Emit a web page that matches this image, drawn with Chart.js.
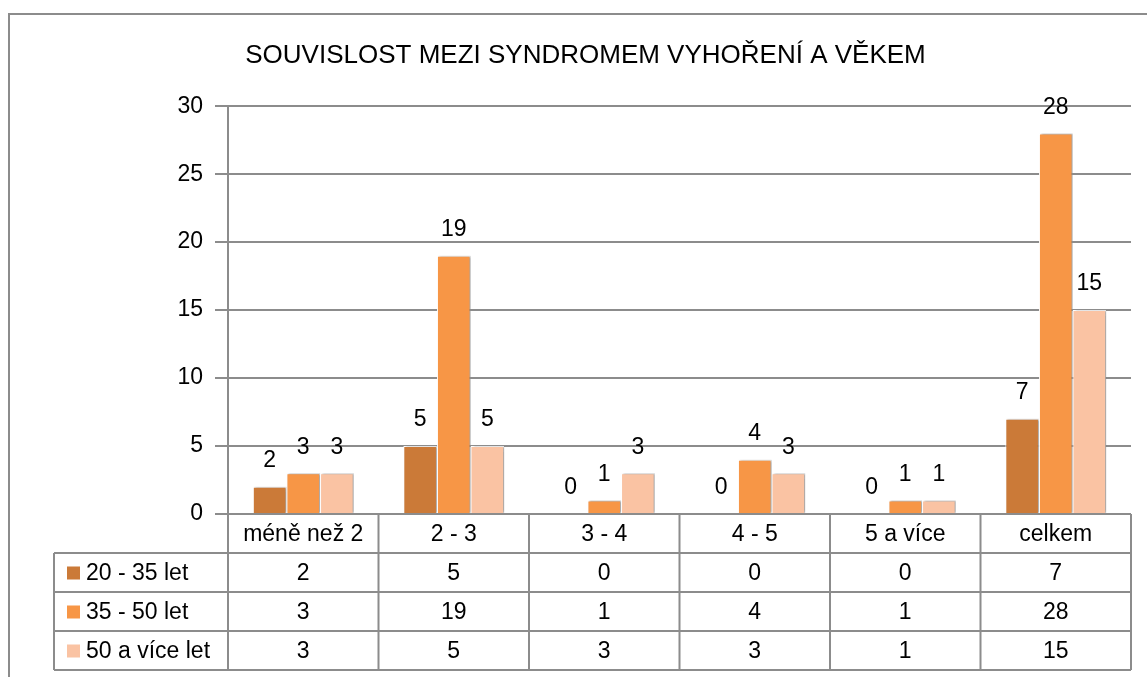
<!DOCTYPE html>
<html>
<head>
<meta charset="utf-8">
<script src="https://cdn.jsdelivr.net/npm/chart.js@4/dist/chart.umd.min.js"></script>
<style>
  html, body { margin: 0; padding: 0; background: #fff; }
  #wrap { width: 1147px; height: 677px; }
</style>
</head>
<body>
<div id="wrap"><canvas id="chart" width="1147" height="677"></canvas></div>
<script>
// Chart data
const categories = ['méně než 2', '2 - 3', '3 - 4', '4 - 5', '5 a více', 'celkem'];
const seriesNames = ['20 - 35 let', '35 - 50 let', '50 a více let'];
const young = [2, 5, 0, 0, 0, 7];
const middle = [3, 19, 1, 4, 1, 28];
const older = [3, 5, 3, 3, 1, 15];
const yTicks = [0, 5, 10, 15, 20, 25, 30];

const colors = ['#CB7A38', '#F79646', '#FAC3A3'];
const FONT = '"Liberation Sans", Arial, sans-serif';
const TXT = 23;
const lineGray = '#8c8c8c';

// outer frame of the chart object
const framePlugin = {
    id: 'frame',
    beforeDraw(chart) {
        const ctx = chart.ctx;
        ctx.save();
        ctx.fillStyle = '#fff';
        ctx.fillRect(0, 0, chart.width, chart.height);
        ctx.strokeStyle = lineGray;
        ctx.lineWidth = 2;
        ctx.beginPath();
        ctx.moveTo(9, chart.height + 2);
        ctx.lineTo(9, 14);
        ctx.lineTo(chart.width + 2, 14);
        ctx.stroke();
        ctx.restore();
    }
};

// slight shadow behind bars
const shadowPlugin = {
    id: 'barShadow',
    beforeDatasetsDraw(chart) {
        const ctx = chart.ctx;
        ctx.save();
        ctx.shadowColor = 'rgba(0,0,0,0.35)';
        ctx.shadowOffsetX = 2;
        ctx.shadowOffsetY = 0;
        ctx.shadowBlur = 2;
    },
    afterDatasetsDraw(chart) {
        chart.ctx.restore();
    }
};

// value labels over each bar
const valueLabels = {
    id: 'valueLabels',
    afterDatasetsDraw(chart) {
        const ctx = chart.ctx;
        ctx.save();
        ctx.font = TXT + 'px ' + FONT;
        ctx.fillStyle = '#000';
        ctx.textAlign = 'center';
        ctx.textBaseline = 'middle';
        chart.data.datasets.forEach((ds, i) => {
            chart.getDatasetMeta(i).data.forEach((bar, j) => {
                ctx.fillText(String(ds.data[j]), bar.x, bar.y - 26);
            });
        });
        ctx.restore();
    }
};

// data table under the plot (category names + values + legend keys)
const dataTable = {
    id: 'dataTable',
    afterDraw(chart) {
        const ctx = chart.ctx;
        const area = chart.chartArea;
        const n = categories.length;
        const colW = (area.right - area.left) / n;
        const rowH = 39;
        const top = area.bottom;
        const tableLeft = 54;
        const rows = chart.data.datasets.length;
        const bottom = top + rowH * (rows + 1);

        ctx.save();
        ctx.strokeStyle = lineGray;
        ctx.lineWidth = 2;
        ctx.beginPath();
        // vertical lines
        for (let k = 0; k <= n; k++) {
            const x = area.left + colW * k;
            ctx.moveTo(x, top);
            ctx.lineTo(x, bottom);
        }
        ctx.moveTo(tableLeft, top + rowH);
        ctx.lineTo(tableLeft, bottom);
        // horizontal lines
        for (let r = 1; r <= rows + 1; r++) {
            const y = top + rowH * r;
            ctx.moveTo(tableLeft, y);
            ctx.lineTo(area.right, y);
        }
        ctx.stroke();

        ctx.font = TXT + 'px ' + FONT;
        ctx.fillStyle = '#000';
        ctx.textBaseline = 'middle';
        ctx.textAlign = 'center';
        const xs = chart.scales.x;
        categories.forEach((c, k) => {
            ctx.fillText(c, xs.getPixelForValue(k), top + rowH / 2 + 1);
        });
        chart.data.datasets.forEach((ds, r) => {
            const yMid = top + rowH * (r + 1) + rowH / 2 + 1;
            ds.data.forEach((v, k) => {
                ctx.textAlign = 'center';
                ctx.fillText(String(v), xs.getPixelForValue(k), yMid);
            });
            ctx.fillStyle = ds.backgroundColor;
            ctx.fillRect(tableLeft + 13, yMid - 7, 13, 13);
            ctx.fillStyle = '#000';
            ctx.textAlign = 'left';
            ctx.fillText(ds.label, tableLeft + 32, yMid);
        });
        ctx.restore();
    }
};

const values = [young, middle, older];

new Chart(document.getElementById('chart'), {
    type: 'bar',
    data: {
        labels: categories,
        datasets: seriesNames.map((name, i) => ({
            label: name,
            data: values[i],
            backgroundColor: colors[i],
            borderColor: '#ffffff',
            borderWidth: 1,
            categoryPercentage: 0.67,
            barPercentage: 1.0
        }))
    },
    options: {
        responsive: false,
        animation: false,
        layout: { padding: { top: 0, right: 16, bottom: 7, left: 40 } },
        plugins: {
            legend: { display: false },
            tooltip: { enabled: false },
            title: {
                display: true,
                text: 'SOUVISLOST MEZI SYNDROMEM VYHOŘENÍ A VĚKEM',
                color: '#000',
                font: { family: FONT, size: 26, weight: 'normal' },
                padding: { top: 40, bottom: 35 }
            }
        },
        scales: {
            x: {
                ticks: { display: false },
                grid: { display: false },
                border: { display: false },
                afterFit(scale) { scale.height = 156; }
            },
            y: {
                min: 0,
                max: 30,
                afterBuildTicks(scale) { scale.ticks = yTicks.map(v => ({ value: v })); },
                ticks: {
                    color: '#000',
                    padding: 12,
                    font: { family: FONT, size: TXT }
                },
                grid: { color: lineGray, lineWidth: 2, tickLength: 13 },
                border: { display: true, color: lineGray, width: 2 },
                afterFit(scale) { scale.width = 188; }
            }
        }
    },
    plugins: [framePlugin, shadowPlugin, valueLabels, dataTable]
});
</script>
</body>
</html>
